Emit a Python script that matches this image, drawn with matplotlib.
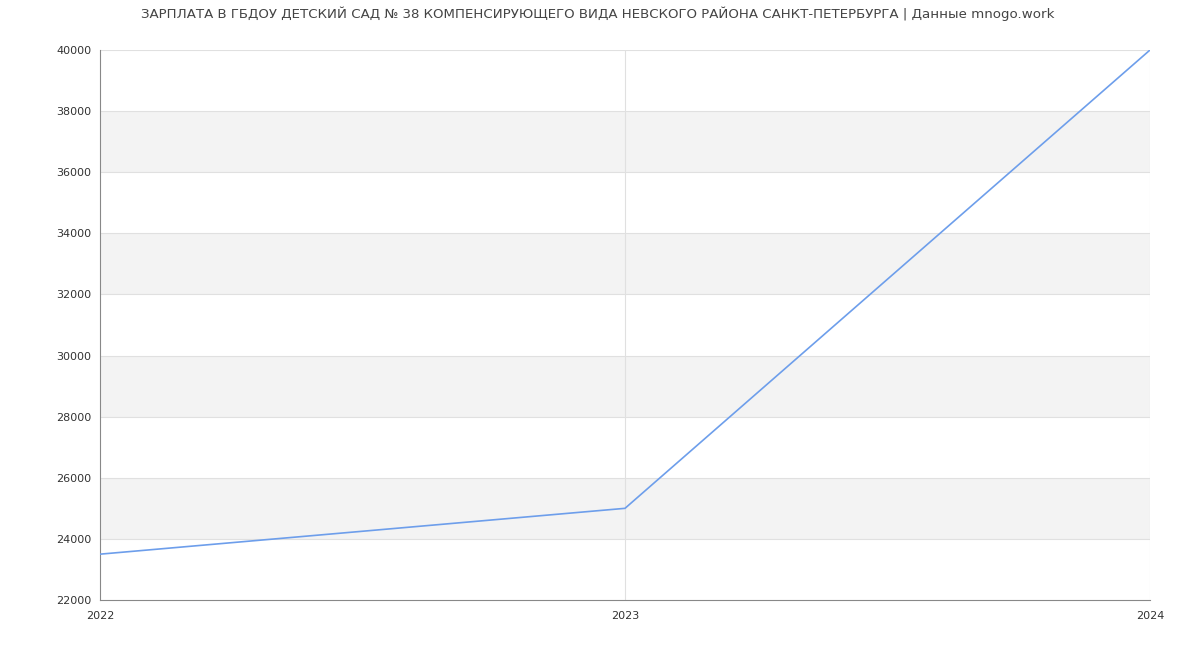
import matplotlib
matplotlib.use('Agg')
import matplotlib.pyplot as plt

# data
years = [2022, 2023, 2024]
salary = [23500, 25000, 40000]
y_ticks = [22000, 24000, 26000, 28000, 30000, 32000, 34000, 36000, 38000, 40000]
title = 'ЗАРПЛАТА В ГБДОУ ДЕТСКИЙ САД № 38 КОМПЕНСИРУЮЩЕГО ВИДА НЕВСКОГО РАЙОНА САНКТ-ПЕТЕРБУРГА | Данные mnogo.work'

plt.rcParams['font.family'] = ['DejaVu Sans']

fig = plt.figure(figsize=(12, 6.5), dpi=100)
ax = fig.add_axes([100/1200, 50/650, 1050/1200, 550/650])

ax.set_xlim(2022, 2024)
ax.set_ylim(22000, 40000)

# alternating bands
for i in range(len(y_ticks) - 1):
    if i % 2 == 1:
        ax.axhspan(y_ticks[i], y_ticks[i+1], color='#f3f3f3', zorder=0, lw=0)

for y in y_ticks[1:]:
    ax.axhline(y, color='#e0e0e0', lw=0.8, zorder=1)
for x in years[1:]:
    ax.axvline(x, color='#e0e0e0', lw=0.8, zorder=1)

ax.plot(years, salary, color='#6d9eeb', lw=1.2, zorder=3)

ax.set_yticks(y_ticks)
ax.set_yticklabels([str(v) for v in y_ticks], fontsize=8, color='#333333')
ax.set_xticks(years)
ax.set_xticklabels([str(v) for v in years], fontsize=8, color='#333333')
ax.tick_params(axis='both', length=0, pad=6)
ax.tick_params(axis='x', pad=8)
for lbl in ax.get_xticklabels():
    lbl.set_x(lbl.get_position()[0])

for side in ['top', 'right']:
    ax.spines[side].set_visible(False)
for side in ['left', 'bottom']:
    ax.spines[side].set_color('#888888')
    ax.spines[side].set_linewidth(0.8)

fig.text(0.5 - 2/1200, 1 - 14/650, title, ha='center', va='center', fontsize=9.65, color='#444444')

fig.savefig('out.png', dpi=100)
